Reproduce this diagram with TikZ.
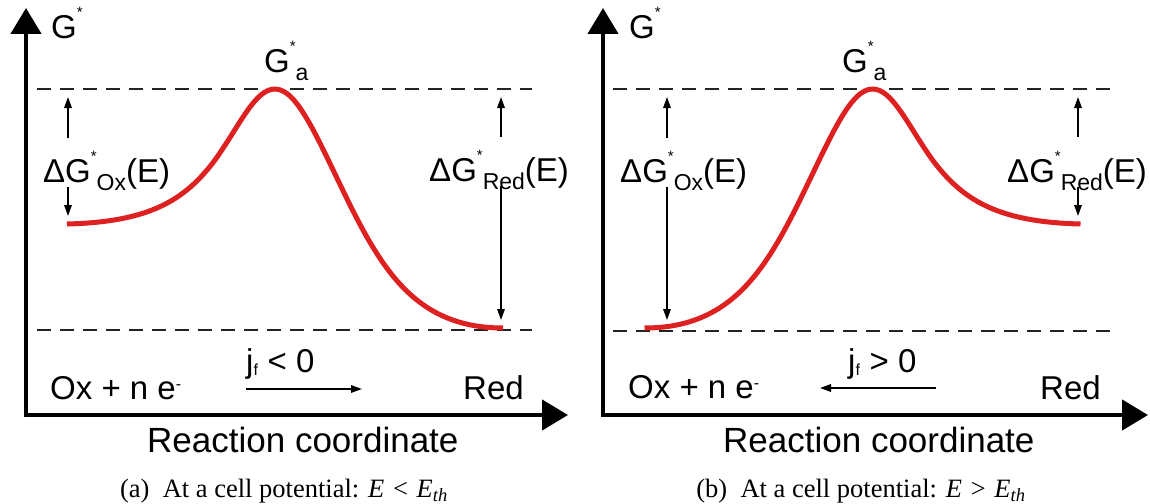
\documentclass[tikz,border=0pt]{standalone}
\usepackage{fontspec}
\setmainfont{Liberation Sans}
\newfontfamily\capfont{Liberation Serif}
\usetikzlibrary{arrows.meta}
\definecolor{curvered}{RGB}{221,32,32}
\definecolor{dashgray}{RGB}{35,35,35}
\tikzset{
  axisline/.style={line width=4.5pt, line join=miter,
    {Triangle[length=26pt,width=30pt]}-{Triangle[length=26pt,width=30pt]}},
  level/.style={line width=2.8pt, dash pattern=on 14pt off 9pt, color=dashgray},
  curve/.style={line width=5pt, color=curvered},
  smallarrow/.style={line width=1.6pt, -{Triangle[length=11pt,width=7.5pt]}},
  lbl/.style={inner sep=0pt, anchor=base west, font=\fontsize{33}{40}\selectfont},
  axlbl/.style={inner sep=0pt, anchor=base west, font=\fontsize{35}{42}\selectfont},
  caplbl/.style={inner sep=0pt, anchor=base, font=\capfont\fontsize{26.5}{30}\selectfont}
}
\newcommand{\st}{\raisebox{0.62em}{\fontsize{15}{15}\selectfont *}}
\newcommand{\lowsub}[1]{\raisebox{-0.26em}{\fontsize{23}{23}\selectfont #1}}
\begin{document}
\begin{tikzpicture}[x=1pt,y=-1pt]
\useasboundingbox (0,0) rectangle (1150,503);

% ---------- left panel ----------
\coordinate (ly) at (26,8);
\coordinate (lo) at (26,415);
\coordinate (lx) at (568,415);
\draw[axisline] (ly) -- (lo) -- (lx);

\coordinate (lt1) at (37,89);  \coordinate (lt2) at (532,89);
\coordinate (lb1) at (37,330); \coordinate (lb2) at (532,330);
\draw[level] (lt1) -- (lt2);
\draw[level] (lb1) -- (lb2);

\coordinate (lcs) at (67,224);
\coordinate (lcp) at (275,89);
\coordinate (lce) at (503,328);
\draw[curve] (lcs) .. controls (150,222) and (185,200) .. (215,160)
  .. controls (240,125) and (255,89) .. (lcp)
  .. controls (298,89) and (318,140) .. (350,205)
  .. controls (385,275) and (420,328) .. (lce);

\node[lbl] (lG) at (51,38) {G\st};
\node[lbl] (lGa) at (264,72) {G\st\lowsub{a}};

\node[lbl] (lox) at (43,182) {ΔG\st\lowsub{Ox}(E)};
\node[lbl] (lred) at (429,181) {ΔG\st\lowsub{Red}(E)};

\coordinate (loxu1) at (68,138); \coordinate (loxu2) at (68,97);
\coordinate (loxd1) at (68,187); \coordinate (loxd2) at (68,216);
\draw[smallarrow] (loxu1) -- (loxu2);
\draw[smallarrow] (loxd1) -- (loxd2);
\coordinate (lredu1) at (501,137); \coordinate (lredu2) at (501,97);
\coordinate (lredd1) at (501,186); \coordinate (lredd2) at (501,320);
\draw[smallarrow] (lredu1) -- (lredu2);
\draw[smallarrow] (lredd1) -- (lredd2);

\node[lbl] (lOx) at (50,399) {Ox + n e\textsuperscript{\fontsize{16}{16}\selectfont -}};
\node[lbl] (lj) at (246,372) {j\textsubscript{\fontsize{16}{16}\selectfont f} < 0};
\coordinate (lja) at (246,389); \coordinate (ljb) at (362,389);
\draw[smallarrow] (lja) -- (ljb);
\node[lbl] (lRed) at (463,399) {Red};
\node[axlbl] (lrc) at (147,452) {Reaction coordinate};
\node[caplbl] (lcap) at (284,497) {(a)\hspace{0.5em}At a cell potential: \textit{E}\hspace{0.33em}<\hspace{0.33em}\textit{E}\textsubscript{\textit{th}}};

% ---------- right panel ----------
\coordinate (ry) at (603,8);
\coordinate (ro) at (603,415);
\coordinate (rx) at (1148,415);
\draw[axisline] (ry) -- (ro) -- (rx);

\coordinate (rt1) at (613,89);  \coordinate (rt2) at (1110,89);
\coordinate (rb1) at (613,331); \coordinate (rb2) at (1110,331);
\draw[level] (rt1) -- (rt2);
\draw[level] (rb1) -- (rb2);

\coordinate (rcs) at (644.5,328);
\coordinate (rcp) at (872.5,89);
\coordinate (rce) at (1080.5,224);
\draw[curve] (rcs) .. controls (727.5,328) and (762.5,275) .. (797.5,205)
  .. controls (829.5,140) and (849.5,89) .. (rcp)
  .. controls (892.5,89) and (907.5,125) .. (932.5,160)
  .. controls (962.5,200) and (997.5,222) .. (rce);

\node[lbl] (rG) at (629,38) {G\st};
\node[lbl] (rGa) at (842,72) {G\st\lowsub{a}};

\node[lbl] (rox) at (620,182) {ΔG\st\lowsub{Ox}(E)};
\node[lbl] (rred) at (1007,182) {ΔG\st\lowsub{Red}(E)};

\coordinate (roxu1) at (667,138); \coordinate (roxu2) at (667,97);
\coordinate (roxd1) at (667,187); \coordinate (roxd2) at (667,320);
\draw[smallarrow] (roxu1) -- (roxu2);
\draw[smallarrow] (roxd1) -- (roxd2);
\coordinate (rredu1) at (1078,137); \coordinate (rredu2) at (1078,97);
\coordinate (rredd1) at (1078,187); \coordinate (rredd2) at (1078,216);
\draw[smallarrow] (rredu1) -- (rredu2);
\draw[smallarrow] (rredd1) -- (rredd2);

\node[lbl] (rOx) at (628,398) {Ox + n e\textsuperscript{\fontsize{16}{16}\selectfont -}};
\node[lbl] (rj) at (848,372) {j\textsubscript{\fontsize{16}{16}\selectfont f} > 0};
\coordinate (rja) at (936,388); \coordinate (rjb) at (820,388);
\draw[smallarrow] (rja) -- (rjb);
\node[lbl] (rRed) at (1040,399) {Red};
\node[axlbl] (rrc) at (723,452) {Reaction coordinate};
\node[caplbl] (rcap) at (861,497) {(b)\hspace{0.5em}At a cell potential: \textit{E}\hspace{0.33em}>\hspace{0.33em}\textit{E}\textsubscript{\textit{th}}};
\end{tikzpicture}
\end{document}
